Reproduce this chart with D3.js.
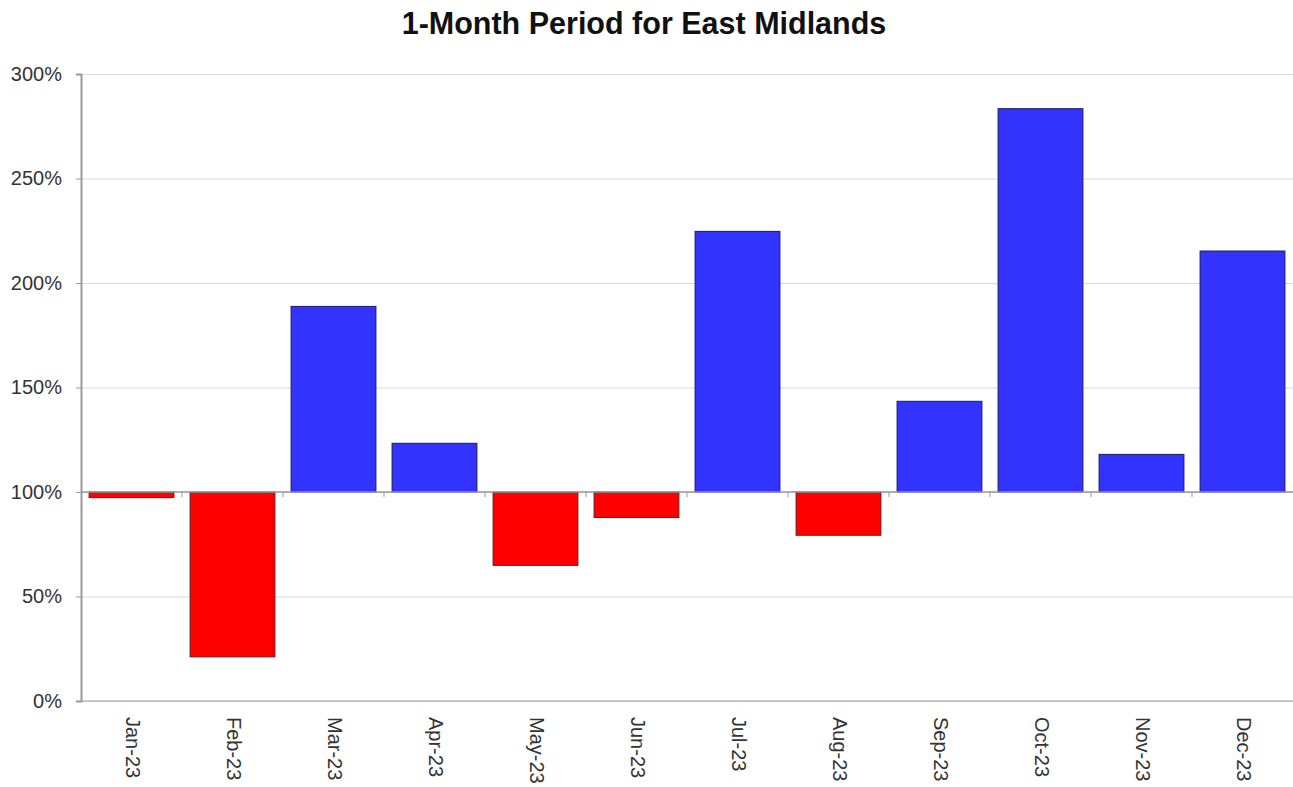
<!DOCTYPE html>
<html>
<head>
<meta charset="utf-8">
<script src="https://cdn.jsdelivr.net/npm/d3@7/dist/d3.min.js"></script>
<style>
  body { margin: 0; background: #fff; }
  svg { display: block; font-family: "Liberation Sans", Arial, sans-serif; }
  .grid line { stroke: #d9d9d9; }
  .grid path { display: none; }
</style>
</head>
<body>
<svg id="chart" width="1293" height="787"></svg>
<script>
var TITLE = '1-Month Period for East Midlands';
var months = ['Jan-23', 'Feb-23', 'Mar-23', 'Apr-23', 'May-23', 'Jun-23',
              'Jul-23', 'Aug-23', 'Sep-23', 'Oct-23', 'Nov-23', 'Dec-23'];
var values = [97.3, 21.1, 188.8, 123.3, 64.9, 87.8, 224.7, 79.3, 143.4, 283.4, 118, 215.3];
var yTicks = [0, 50, 100, 150, 200, 250, 300];
var BASELINE = 100;

var svg = d3.select('#chart'),
    margin = {top: 74, right: 0, bottom: 86, left: 81},
    width = 1293 - margin.left - margin.right,
    height = 787 - margin.top - margin.bottom;

var x = d3.scaleBand().domain(months).range([0, width]).paddingInner(0.16).paddingOuter(0.08);
var xTick = d3.scaleBand().domain(months).range([0, width]);
var y = d3.scaleLinear().domain([0, 300]).range([height, 0]);

svg.append('text')
   .attr('x', 644)
   .attr('y', 34)
   .attr('text-anchor', 'middle')
   .style('font-size', '30.5px')
   .style('font-weight', 'bold')
   .attr('fill', '#111')
   .text(TITLE);

var g = svg.append('g').attr('transform', 'translate(' + margin.left + ',' + margin.top + ')');

// horizontal gridlines
g.append('g')
  .attr('class', 'grid')
  .call(d3.axisLeft(y).tickValues(yTicks).tickSize(-width).tickFormat(''));

// bars, growing up or down from the 100% line
g.selectAll('rect.bar')
  .data(values)
  .enter()
  .append('rect')
  .attr('class', 'bar')
  .attr('x', function (d, i) { return x(months[i]); })
  .attr('y', function (d) { return y(Math.max(d, BASELINE)); })
  .attr('width', x.bandwidth())
  .attr('height', function (d) { return Math.abs(y(d) - y(BASELINE)); })
  .attr('fill', function (d) { return d >= BASELINE ? '#3333ff' : '#ff0000'; })
  .attr('stroke', function (d) { return d >= BASELINE ? '#1a1a60' : '#602020'; })
  .attr('stroke-width', 1);

// category axis at 100%
var catAxis = g.append('g')
  .attr('transform', 'translate(0,' + y(BASELINE) + ')');
catAxis.append('line')
  .attr('x1', 0).attr('x2', width)
  .attr('stroke', '#999').attr('stroke-width', 1.5);
catAxis.selectAll('line.tick')
  .data(months.slice(1))
  .enter()
  .append('line')
  .attr('class', 'tick')
  .attr('x1', function (d) { return xTick(d); })
  .attr('x2', function (d) { return xTick(d); })
  .attr('y1', 0).attr('y2', 5)
  .attr('stroke', '#999');

// 0% line
g.append('line')
  .attr('x1', 0).attr('x2', width)
  .attr('y1', y(0)).attr('y2', y(0))
  .attr('stroke', '#bbb').attr('stroke-width', 1.5);

// value axis
var yAxis = g.append('g')
  .call(d3.axisLeft(y).tickValues(yTicks).tickSize(5).tickPadding(14)
        .tickFormat(function (d) { return d + '%'; }));
yAxis.select('.domain').attr('stroke', '#999').attr('stroke-width', 2);
yAxis.selectAll('.tick line').attr('stroke', '#999');
yAxis.selectAll('.tick text')
  .attr('fill', '#333')
  .style('font-size', '20px')
  .style('font-family', '"Liberation Sans", Arial, sans-serif');

// month labels, rotated
g.selectAll('text.month')
  .data(months)
  .enter()
  .append('text')
  .attr('class', 'month')
  .attr('transform', function (d) {
      return 'translate(' + (xTick(d) + xTick.bandwidth() / 2 - 6) + ',' + (y(0) + 16) + ') rotate(90)';
  })
  .attr('fill', '#333')
  .style('font-size', '20px')
  .text(function (d) { return d; });
</script>
</body>
</html>
